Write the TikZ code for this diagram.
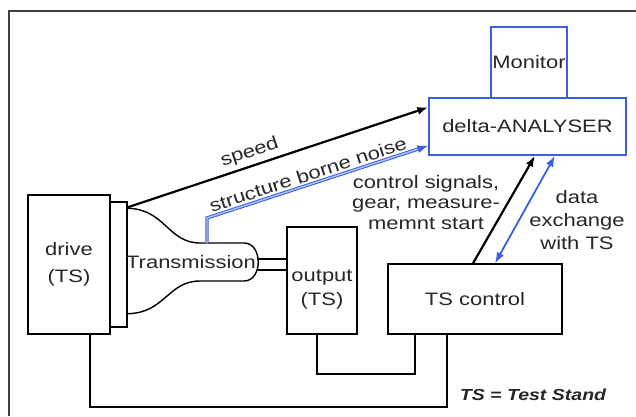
\documentclass[tikz,border=0pt]{standalone}
\usepackage{fontspec}
\setmainfont[FakeStretch=1.22]{Liberation Sans}
\usetikzlibrary{arrows.meta,calc}
\definecolor{bl}{RGB}{60,95,225}
\definecolor{bllight}{RGB}{175,195,245}
\begin{document}
\begin{tikzpicture}[x=1pt,y=1pt,
  box/.style={draw=black, line width=1.4pt, rectangle, inner sep=0pt, align=center},
  bbox/.style={draw=bl, line width=1.4pt, rectangle, inner sep=0pt, align=center},
  wire/.style={line width=2.2pt, draw=black},
  txt/.style={font=\fontsize{18}{21}\selectfont, text=black!85, align=center, inner sep=0pt},
  tip/.style={-{Latex[length=11pt,width=8pt]}},
]
\useasboundingbox (0,0) rectangle (636,416);
% frame
\draw[line width=2pt, black!75] (636,405) -- (9,405) -- (9,0);

% boxes
\node[box, txt, font=\fontsize{18}{27}\selectfont, minimum width=82pt, minimum height=139pt] (drive) at (69,151.5) {drive\\(TS)};
\node[box, minimum width=17pt, minimum height=125pt] (flange) at (118.5,151.5) {};
\node[box, minimum width=70pt, minimum height=107pt] (output) at (322,135.5) {};
\node[txt, font=\fontsize{18}{24}\selectfont] (outlbl) at (322,126) {output\\(TS)};
\node[box, txt, minimum width=174pt, minimum height=70pt] (tsc) at (475,117) {TS control};
\node[bbox, txt, minimum width=197pt, minimum height=57pt] (ana) at (527.5,289.5) {delta-ANALYSER};
\node[bbox, txt, minimum width=76pt, minimum height=71pt] (mon) at (529,353.5) {Monitor};

% transmission housing
\draw[line width=1.4pt] ([yshift=-7pt]flange.north east) .. controls (165,207) and (168,173) .. (200,173) -- (244,173) .. controls (263,173) and (263,135) .. (244,135) -- (200,135) .. controls (168,135) and (165,103) .. ([yshift=14pt]flange.south east);
\node[txt] (trans) at (191,154) {Transmission};

% shafts
\coordinate (sh1) at (257,157);
\coordinate (sh2) at (257,146);
\draw[line width=2pt] (sh1) -- (sh1 -| output.west);
\draw[line width=2pt] (sh2) -- (sh2 -| output.west);

% speed
\draw[wire, tip] ([yshift=-6pt]flange.north east) -- node[txt, sloped, above=4pt, pos=0.42] {speed} ([yshift=-10pt]ana.north west);

% structure borne noise
\coordinate (n1) at (207,173);
\coordinate (n2) at (207,198);
\draw[draw=bl, double=bllight, line width=1pt, double distance=1.4pt, -{Latex[length=11pt,width=8pt]}] (n1) -- (n2) -- node[txt, sloped, above=3pt, pos=0.47] {structure borne noise} ([yshift=10pt]ana.south west);

% control signals
\draw[wire, tip] ([xshift=-2pt]tsc.north) -- ([xshift=7.5pt]ana.south);
\node[txt, font=\fontsize{18}{20.5}\selectfont] (ctl) at (426,213.5) {control signals,\\gear, measure-\\memnt start};

% data exchange
\draw[draw=bl, line width=1.8pt, {Latex[length=11pt,width=8pt]}-{Latex[length=11pt,width=8pt]}] ([xshift=20pt]tsc.north) -- ([xshift=27.5pt]ana.south);
\node[txt, font=\fontsize{18}{23}\selectfont] (dx) at (577,196) {data\\exchange\\with TS};

% wiring
\draw[wire] ([xshift=21pt]drive.south) -- ++(0,-72) -| ([xshift=-28pt]tsc.south);
\draw[wire] ([xshift=-5pt]output.south) -- ++(0,-39) -| ([xshift=-60pt]tsc.south);

% legend
\node[txt, font=\fontsize{16}{19}\selectfont\bfseries\itshape] (leg) at (533,21) {TS = Test Stand};
\end{tikzpicture}
\end{document}
